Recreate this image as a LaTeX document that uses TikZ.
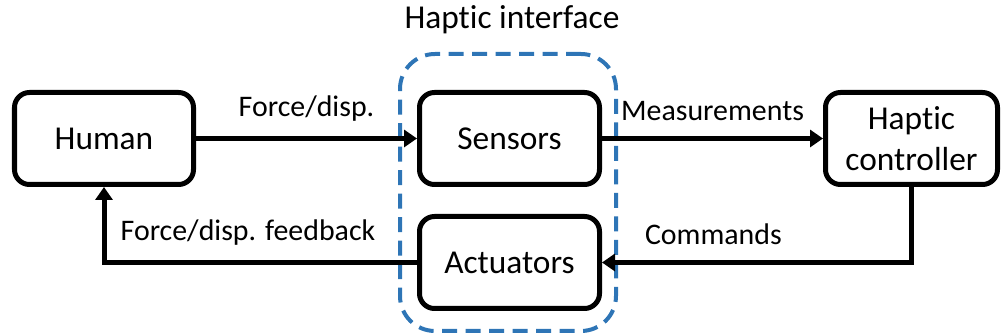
\documentclass[tikz,border=0pt]{standalone}
\usepackage{fontspec}
\setmainfont[Ligatures=NoCommon]{Carlito}
\usetikzlibrary{arrows.meta}
\definecolor{ifaceblue}{RGB}{46,117,182}

\begin{document}
\begin{tikzpicture}[
        block/.style={draw, line width=0.1cm, rounded corners=0.3cm, align=center,
            minimum height=1.84cm, font=\fontsize{19}{23.5}\selectfont},
        sig/.style={line width=0.1cm, -{Triangle[length=0.26cm, width=0.34cm]}},
        siglabel/.style={font=\fontsize{17}{20}\selectfont, inner sep=0pt}
    ]
        \useasboundingbox (0,0) rectangle (20.02,6.7);

        % Dashed frame of the haptic interface
        \node[draw=ifaceblue, line width=0.08cm, dash pattern=on 0.3cm off 0.17cm,
            rounded corners=0.7cm, minimum width=4.32cm, minimum height=5.54cm] (iface) at (10.16,2.85) {};
        \node[font=\fontsize{19}{23}\selectfont] (ifacetitle) at (10.24,6.3) {Haptic interface};

        % Blocks
        \node[block, minimum width=3.58cm] (human) at (2.08,3.93) {Human};
        \node[block, minimum width=3.6cm] (sensors) at (10.19,3.93) {Sensors};
        \node[block, minimum width=3.6cm] (actuators) at (10.19,1.45) {Actuators};
        \node[block, minimum width=3.44cm] (ctrl) at (18.23,3.93) {Haptic\\controller};

        % Signals
        \draw[sig] (human) -- node[siglabel, midway, above=0.3cm] {Force/disp.} (sensors);
        \draw[sig] (sensors) -- node[siglabel, midway, above=0.3cm] {Measurements} (ctrl);
        \draw[sig] (ctrl.south) |- node[siglabel, pos=0.82, above=0.3cm] {Commands} (actuators.east);
        \draw[sig] (actuators.west) -| node[siglabel, pos=0.27, above=0.3cm] {Force/disp. feedback} (human.south);
\end{tikzpicture}
\end{document}
